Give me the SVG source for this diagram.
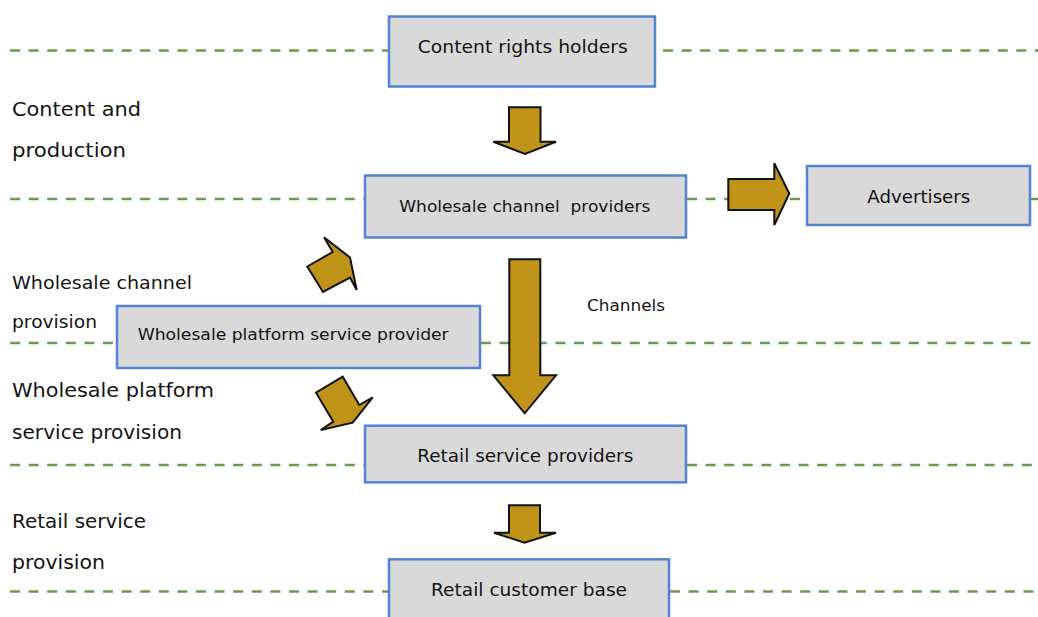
<svg xmlns="http://www.w3.org/2000/svg" width="1038" height="617" viewBox="0 0 1038 617">
<style>
.dash{stroke:#6a9a48;stroke-width:2.4;stroke-dasharray:10 8.6;fill:none}
.box{fill:#d9d9d9;stroke:#5583d3;stroke-width:2.5}
.arr{fill:#c09418;stroke:#111;stroke-width:2;stroke-linejoin:miter}
text{font-family:"DejaVu Sans","Liberation Sans",sans-serif;fill:#141414}
.lbl{font-size:20px}
.lbs{font-size:18px}
.bt{font-size:18px}
.bs{font-size:16px}
</style>
<rect width="1038" height="617" fill="#ffffff"/>
<g id="layers">
<line class="dash" x1="10" y1="50.5" x2="388" y2="50.5"/>
<line class="dash" x1="663" y1="50.5" x2="1038" y2="50.5"/>
<line class="dash" x1="10" y1="199" x2="364" y2="199"/>
<line class="dash" x1="687" y1="199" x2="728" y2="199"/>
<line class="dash" x1="790" y1="199" x2="806" y2="199"/>
<line class="dash" x1="1031" y1="199" x2="1038" y2="199"/>
<line class="dash" x1="10" y1="343" x2="116" y2="343"/>
<line class="dash" x1="481" y1="343" x2="1038" y2="343"/>
<line class="dash" x1="10" y1="465" x2="364" y2="465"/>
<line class="dash" x1="687" y1="465" x2="1038" y2="465"/>
<line class="dash" x1="10" y1="591.5" x2="388" y2="591.5"/>
<line class="dash" x1="670" y1="591.5" x2="1038" y2="591.5"/>
<text class="lbl" x="12" y="116" textLength="129" lengthAdjust="spacingAndGlyphs">Content and</text>
<text class="lbl" x="12" y="157" textLength="114" lengthAdjust="spacingAndGlyphs">production</text>
<text class="lbs" x="12" y="289" textLength="180" lengthAdjust="spacingAndGlyphs">Wholesale channel</text>
<text class="lbs" x="12" y="328" textLength="85" lengthAdjust="spacingAndGlyphs">provision</text>
<text class="lbl" x="12" y="397" textLength="202" lengthAdjust="spacingAndGlyphs">Wholesale platform</text>
<text class="lbl" x="12" y="439" textLength="170" lengthAdjust="spacingAndGlyphs">service provision</text>
<text class="lbl" x="12" y="528" textLength="134" lengthAdjust="spacingAndGlyphs">Retail service</text>
<text class="lbl" x="12" y="569" textLength="93" lengthAdjust="spacingAndGlyphs">provision</text>
<text class="bs" x="587" y="311" textLength="78" lengthAdjust="spacingAndGlyphs">Channels</text>
</g>
<g id="connectors">
<polygon class="arr" points="509,107.3 540.5,107.3 540.5,141.7 556,141.7 525,154 493.3,141.7 509,141.7"/>
<polygon class="arr" points="509.3,259.3 540.3,259.3 540.3,375.3 556,375.3 524.7,413.3 493.3,375.3 509.3,375.3"/>
<polygon class="arr" points="728.3,179 774.3,179 774.3,163.3 789.3,193.5 774.3,225 774.3,210 728.3,210"/>
<polygon class="arr" points="509,505.3 540,505.3 540,532.7 556,532.7 524.5,542.7 494,532.7 509,532.7"/>
<polygon class="arr" points="307.3,266.5 332.7,252 324,237.3 350,257.5 356.7,290 350,277.5 323,292"/>
<polygon class="arr" points="316,392.7 342.7,376.7 359.3,405 372.7,397.3 352.7,422.7 320.7,430 333.3,421.7"/>
</g>
<g id="n-content">
<rect class="box" x="389" y="16.5" width="266" height="70"/>
<text class="bt" x="417.7" y="53.3" textLength="210" lengthAdjust="spacingAndGlyphs">Content rights holders</text>
</g>
<g id="n-wholesale-channel">
<rect class="box" x="365" y="175.5" width="321" height="62"/>
<text class="bs" x="399.3" y="211.7" textLength="251" lengthAdjust="spacingAndGlyphs" xml:space="preserve">Wholesale channel  providers</text>
</g>
<g id="n-advertisers">
<rect class="box" x="807" y="166" width="223" height="59"/>
<text class="bt" x="867.3" y="203.3" textLength="103" lengthAdjust="spacingAndGlyphs">Advertisers</text>
</g>
<g id="n-platform">
<rect class="box" x="117" y="306" width="363" height="62"/>
<text class="bs" x="137.7" y="340" textLength="311" lengthAdjust="spacingAndGlyphs">Wholesale platform service provider</text>
</g>
<g id="n-retail">
<rect class="box" x="365" y="425.7" width="321" height="56.6"/>
<text class="bt" x="417.3" y="462.3" textLength="216" lengthAdjust="spacingAndGlyphs">Retail service providers</text>
</g>
<g id="n-customer">
<rect class="box" x="389" y="559.3" width="280" height="62"/>
<text class="bt" x="431" y="596" textLength="196" lengthAdjust="spacingAndGlyphs">Retail customer base</text>
</g>
</svg>
